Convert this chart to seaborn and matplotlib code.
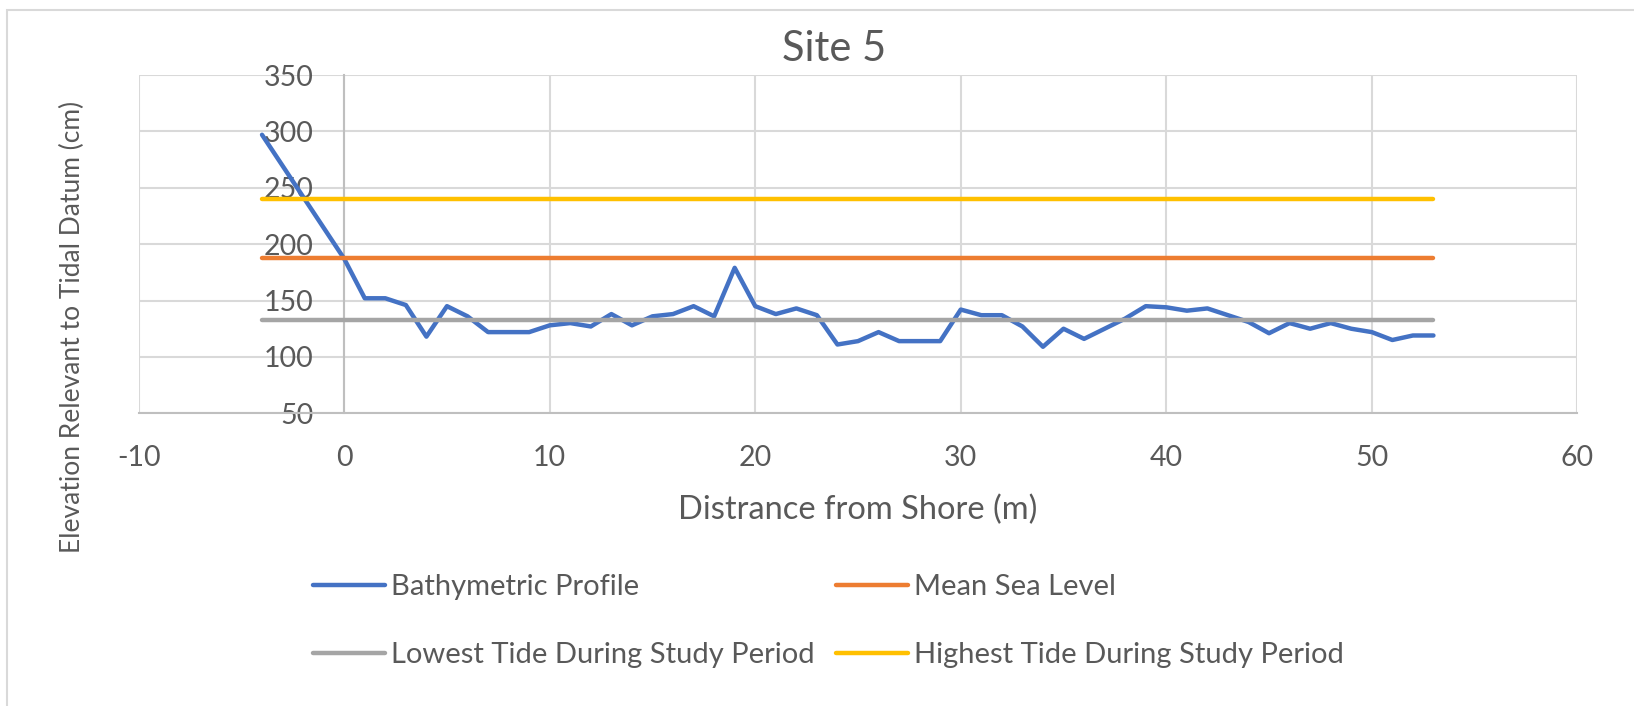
import numpy as np
import pandas as pd
import matplotlib
matplotlib.use("Agg")
import matplotlib.pyplot as plt
import seaborn as sns
from matplotlib.lines import Line2D
from matplotlib.patches import Rectangle

# ---------------- data ----------------
distance = [-4, 0, 1, 2, 3, 4, 5, 6, 7, 8, 9, 10, 11, 12, 13, 14, 15, 16, 17, 18, 19,
            20, 21, 22, 23, 24, 25, 26, 27, 28, 29, 30, 31, 32, 33, 34, 35, 36, 37,
            38, 39, 40, 41, 42, 43, 44, 45, 46, 47, 48, 49, 50, 51, 52, 53]
bathymetry = [297, 187, 152, 152, 146, 118, 145, 136, 122, 122, 122, 128, 130, 127, 138,
              128, 136, 138, 145, 136, 179, 145, 138, 143, 137, 111, 114, 122, 114, 114,
              114, 142, 137, 137, 127, 109, 125, 116, 125, 134, 145, 144, 141, 143, 137,
              131, 121, 130, 125, 130, 125, 122, 115, 119, 119]
level_x = [-4, 53]
mean_sea_level = [188, 188]
lowest_tide = [132.5, 132.5]
highest_tide = [240, 240]

series_names = ["Bathymetric Profile", "Mean Sea Level",
                "Lowest Tide During Study Period", "Highest Tide During Study Period"]
series_colors = ["#4472C4", "#ED7D31", "#A5A5A5", "#FFC000"]

x_ticks = list(range(-10, 61, 10))
y_ticks = list(range(50, 351, 50))

# ---------------- style ----------------
sns.set_style("white")
plt.rcParams["font.family"] = ["Lato", "DejaVu Sans"]
plt.rcParams["axes.unicode_minus"] = False
TXT = "#595959"
GRID = "#D9D9D9"
AXIS = "#BFBFBF"
LW = 3.2

W, H = 1634, 706
fig = plt.figure(figsize=(W / 100, H / 100), dpi=100)
ax = fig.add_axes([138.7 / W, 1 - 413.3 / H, (1577.3 - 138.7) / W, (413.3 - 75) / H])

frames = [
    pd.DataFrame({"x": distance, "y": bathymetry}),
    pd.DataFrame({"x": level_x, "y": mean_sea_level}),
    pd.DataFrame({"x": level_x, "y": lowest_tide}),
    pd.DataFrame({"x": level_x, "y": highest_tide}),
]
for df, name, col in zip(frames, series_names, series_colors):
    sns.lineplot(data=df, x="x", y="y", ax=ax, color=col, linewidth=LW,
                 sort=False, solid_capstyle="round", solid_joinstyle="round",
                 label=name, legend=False, zorder=3)

ax.set_xlim(-10, 60)
ax.set_ylim(50, 350)
ax.set_xticks(x_ticks)
ax.set_yticks(y_ticks)
ax.set_xlabel("")
ax.set_ylabel("")
ax.grid(True, color=GRID, linewidth=1.5)
ax.set_axisbelow(True)
for s in ["top", "right"]:
    ax.spines[s].set_visible(False)
ax.spines["left"].set_position(("data", 0))
ax.spines["left"].set_color(AXIS)
ax.spines["left"].set_linewidth(1.5)
ax.spines["bottom"].set_color(AXIS)
ax.spines["bottom"].set_linewidth(1.5)
ax.tick_params(axis="y", length=0, pad=22, labelsize=20.5, labelcolor=TXT)
ax.tick_params(axis="x", length=0, pad=23, labelsize=20.5, labelcolor=TXT)

# titles / labels
fig.text(834 / W, 1 - 49 / H, "Site 5", ha="center", va="center", fontsize=30, color=TXT)
fig.text(858 / W, 1 - 510 / H, "Distrance from Shore (m)", ha="center", va="center",
         fontsize=23.5, color=TXT)
fig.text(72 / W, 1 - 326.5 / H, "Elevation Relevant to Tidal Datum (cm)", rotation=90,
         ha="center", va="center", fontsize=19, color=TXT)

# legend (row-major order like the original)
handles = [Line2D([], [], color=c, linewidth=LW, solid_capstyle="round") for c in series_colors]
order = [0, 2, 1, 3]
fig.legend([handles[i] for i in order], [series_names[i] for i in order], ncol=2,
           loc="center left", bbox_to_anchor=(313 / W, 1 - 621 / H), frameon=False,
           fontsize=21, labelcolor=TXT, handlelength=2.47, handletextpad=0.2,
           columnspacing=0.75, labelspacing=1.45, borderpad=0, borderaxespad=0)

# outer chart border
fig.add_artist(Rectangle((7 / W, -0.2), 2, 1.2 - 10 / H, transform=fig.transFigure,
                         fill=False, edgecolor=GRID, linewidth=1.5, clip_on=False))

fig.savefig("out.png", dpi=100)
